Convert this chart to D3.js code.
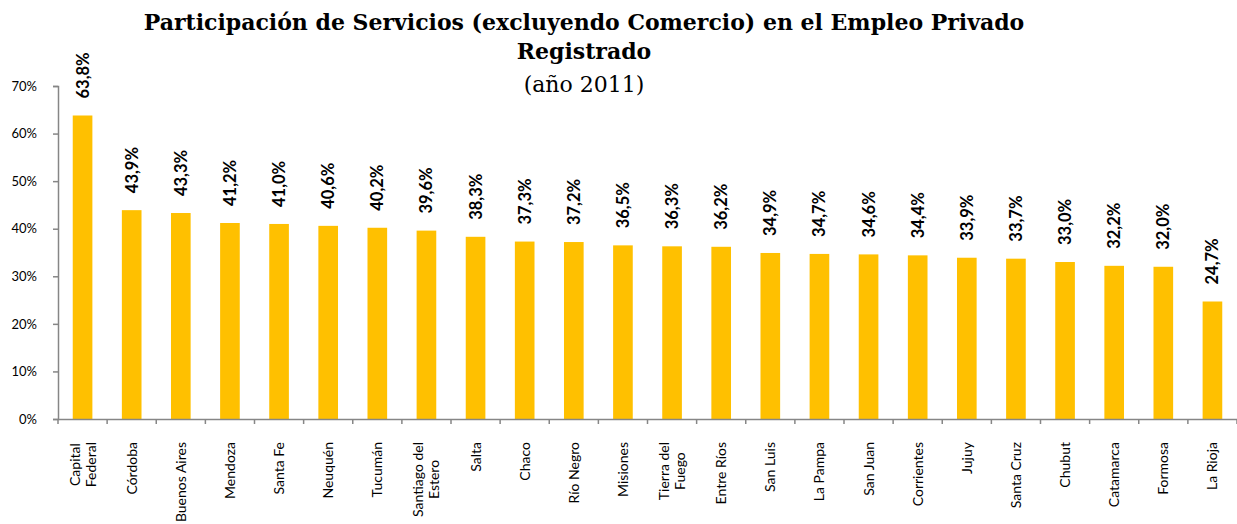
<!DOCTYPE html>
<html>
<head>
<meta charset="utf-8">
<script src="https://cdn.jsdelivr.net/npm/d3@7"></script>
<style>
  body { margin: 0; background: #fff; }
  svg { display: block; }
</style>
</head>
<body>
<script>
// data
var provinces = [["Capital", "Federal"], ["Córdoba"], ["Buenos Aires"], ["Mendoza"], ["Santa Fe"],
    ["Neuquén"], ["Tucumán"], ["Santiago del", "Estero"], ["Salta"], ["Chaco"], ["Río Negro"],
    ["Misiones"], ["Tierra del", "Fuego"], ["Entre Ríos"], ["San Luis"], ["La Pampa"], ["San Juan"],
    ["Corrientes"], ["Jujuy"], ["Santa Cruz"], ["Chubut"], ["Catamarca"], ["Formosa"], ["La Rioja"]];
var shares = [63.8, 43.9, 43.3, 41.2, 41.0, 40.6, 40.2, 39.6, 38.3, 37.3, 37.2, 36.5, 36.3, 36.2,
    34.9, 34.7, 34.6, 34.4, 33.9, 33.7, 33.0, 32.2, 32.0, 24.7];
var yTicks = [0, 10, 20, 30, 40, 50, 60, 70];

var width = 1237, height = 524;
var plotLeft = 58, plotRight = 1237, plotTop = 86, plotBottom = 419;

var svg = d3.select("body").append("svg")
    .attr("width", width)
    .attr("height", height);

var x = d3.scaleBand()
    .domain(d3.range(provinces.length))
    .range([plotLeft, plotRight]);

var y = d3.scaleLinear()
    .domain([0, 70])
    .range([plotBottom, plotTop]);

// title
var title = svg.append("text")
    .attr("text-anchor", "middle")
    .attr("font-family", "DejaVu Serif, serif")
    .attr("fill", "#000");
title.append("tspan").attr("x", 584).attr("y", 30)
    .attr("font-weight", "bold").attr("font-size", 22)
    .text("Participación de Servicios (excluyendo Comercio) en el Empleo Privado");
title.append("tspan").attr("x", 584).attr("y", 59)
    .attr("font-weight", "bold").attr("font-size", 22)
    .text("Registrado");
title.append("tspan").attr("x", 584).attr("y", 92)
    .attr("font-size", 22)
    .text("(año 2011)");

// bars
svg.selectAll("rect.bar")
    .data(shares)
    .enter()
    .append("rect")
    .attr("class", "bar")
    .attr("x", (d, i) => x(i) + x.bandwidth() * 0.3)
    .attr("width", x.bandwidth() * 0.4)
    .attr("y", d => y(d))
    .attr("height", d => y(0) - y(d))
    .attr("fill", "#FFC000");

// value labels
svg.selectAll("text.val")
    .data(shares)
    .enter()
    .append("text")
    .attr("class", "val")
    .attr("transform", (d, i) => "translate(" + (x(i) + x.bandwidth() / 2 + 6) + "," + (y(d) - 17) + ") rotate(-90)")
    .attr("font-family", "Lato, sans-serif")
    .attr("font-weight", "bold")
    .attr("font-size", 16.5)
    .text(d => d.toFixed(1).replace(".", ",") + "%");

// y axis
var yAxis = svg.append("g")
    .attr("transform", "translate(" + plotLeft + ",0)")
    .call(d3.axisLeft(y).tickValues(yTicks).tickSize(5).tickPadding(16).tickFormat(d => d + "%"));
yAxis.selectAll("text").attr("font-family", "Lato, sans-serif").attr("font-size", 13).attr("fill", "#000");

// x axis
var xAxis = svg.append("g")
    .attr("transform", "translate(0," + plotBottom + ")")
    .call(d3.axisBottom(x).tickSize(0).tickFormat(""));
xAxis.selectAll(".tick").remove();
xAxis.selectAll("line.sep")
    .data(d3.range(provinces.length + 1))
    .enter()
    .append("line")
    .attr("class", "sep")
    .attr("x1", i => plotLeft + i * x.step())
    .attr("x2", i => plotLeft + i * x.step())
    .attr("y1", 0)
    .attr("y2", 5);

svg.selectAll(".domain, .tick line, line.sep")
    .attr("stroke", "#868686")
    .attr("stroke-width", 1.5);

// category labels, rotated; multi-line labels are centred on their longest line
var cat = svg.selectAll("text.cat")
    .data(provinces)
    .enter()
    .append("text")
    .attr("class", "cat")
    .attr("font-family", "Lato, sans-serif")
    .attr("font-size", 14)
    .attr("transform", (d, i) => "translate(" + (x(i) + x.bandwidth() / 2) + "," + (plotBottom + 23) + ") rotate(-90)");
cat.each(function(lines) {
    var t = d3.select(this);
    var spans = lines.map(function(s, k) {
        return t.append("tspan")
            .attr("y", (k - (lines.length - 1) / 2) * 16 + 5)
            .attr("text-anchor", "middle")
            .text(s);
    });
    var maxW = d3.max(spans, s => s.node().getComputedTextLength());
    spans.forEach(s => s.attr("x", -maxW / 2));
});
</script>
</body>
</html>
